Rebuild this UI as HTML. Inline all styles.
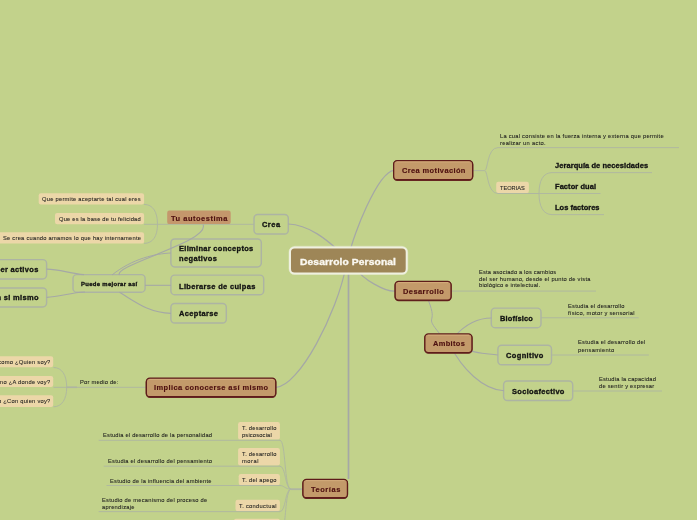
<!DOCTYPE html><html><head><meta charset="utf-8"><style>
html,body{margin:0;padding:0;}body{width:697px;height:520px;overflow:hidden;position:relative;background:#c2d28b;font-family:"Liberation Sans",sans-serif;}
.b{position:absolute;box-sizing:border-box;}
.center{background:#9e8657;border:2px solid #eff0e0;border-radius:5.5px;box-shadow:0 0 1.5px 0.5px rgba(240,245,225,0.55);}
.l1{background:#c39a6a;border:1.3px solid #5e1c1a;border-radius:3.5px;box-shadow:0 0.9px 0 0 #6a2a24, inset 0 1px 0 rgba(235,205,160,0.6);}
.tu{background:#c7956a;border-radius:2px;}
.gray{border:1.4px solid #aab3a3;border-radius:3px;background:#c2d28b;}
.peach{background:#ecd7a8;border-radius:2px;}
.t{position:absolute;white-space:nowrap;line-height:10px;transform-origin:0 50%;will-change:transform;}
svg{position:absolute;left:0;top:0;}
#wrap{position:absolute;left:0;top:0;width:697px;height:520px;overflow:hidden;filter:blur(0.3px);}
</style></head><body><div id="wrap">
<svg width="697" height="520" viewBox="0 0 697 520" fill="none">
<rect x="254.00" y="214.50" width="34.30" height="19.50" rx="3.8" fill="#c2d28b" stroke="#adb4a3" stroke-width="1.45"/>
<rect x="170.90" y="239.00" width="90.40" height="27.90" rx="3.8" fill="#c2d28b" stroke="#adb4a3" stroke-width="1.45"/>
<rect x="170.90" y="275.10" width="92.80" height="19.60" rx="3.8" fill="#c2d28b" stroke="#adb4a3" stroke-width="1.45"/>
<rect x="170.90" y="303.50" width="55.40" height="19.50" rx="3.8" fill="#c2d28b" stroke="#adb4a3" stroke-width="1.45"/>
<rect x="73.00" y="274.60" width="72.10" height="17.60" rx="3.8" fill="#c2d28b" stroke="#adb4a3" stroke-width="1.45"/>
<rect x="-10.00" y="259.60" width="56.60" height="19.30" rx="3.8" fill="#c2d28b" stroke="#adb4a3" stroke-width="1.45"/>
<rect x="-10.00" y="287.90" width="56.60" height="19.00" rx="3.8" fill="#c2d28b" stroke="#adb4a3" stroke-width="1.45"/>
<rect x="491.30" y="308.10" width="49.70" height="19.60" rx="3.8" fill="#c2d28b" stroke="#adb4a3" stroke-width="1.45"/>
<rect x="497.90" y="345.20" width="53.60" height="19.60" rx="3.8" fill="#c2d28b" stroke="#adb4a3" stroke-width="1.45"/>
<rect x="503.60" y="380.90" width="69.10" height="19.60" rx="3.8" fill="#c2d28b" stroke="#adb4a3" stroke-width="1.45"/>
<rect x="38.70" y="193.30" width="105.40" height="11.10" rx="2.2" fill="#ecd7a8"/>
<rect x="55.00" y="212.90" width="89.10" height="11.40" rx="2.2" fill="#ecd7a8"/>
<rect x="-5.00" y="232.30" width="149.10" height="11.30" rx="2.2" fill="#ecd7a8"/>
<rect x="-5.00" y="356.30" width="58.20" height="11.00" rx="2.2" fill="#ecd7a8"/>
<rect x="-5.00" y="376.00" width="58.20" height="10.90" rx="2.2" fill="#ecd7a8"/>
<rect x="-5.00" y="395.30" width="58.20" height="11.60" rx="2.2" fill="#ecd7a8"/>
<rect x="496.20" y="181.80" width="32.70" height="11.30" rx="2.2" fill="#ecd7a8"/>
<rect x="238.10" y="422.00" width="41.80" height="17.60" rx="2.2" fill="#ecd7a8"/>
<rect x="238.10" y="447.90" width="41.80" height="17.60" rx="2.2" fill="#ecd7a8"/>
<rect x="238.70" y="474.10" width="41.20" height="11.10" rx="2.2" fill="#ecd7a8"/>
<rect x="235.50" y="499.80" width="44.40" height="11.30" rx="2.2" fill="#ecd7a8"/>
<rect x="234.00" y="518.80" width="45.90" height="16.20" rx="2.2" fill="#ecd7a8"/>
<g fill="none">
<path d="M350.0,252.0 C352.5,237.9 377.2,172.1 394.0,170.3" stroke-width="1.25" stroke="#a5a8a6"/>
<path d="M338.0,250.0 C328,241 309.2,224.6 288.3,224.0" stroke-width="1.25" stroke="#a5a8a6"/>
<path d="M356.0,268.0 C361.7,279.3 386.1,292.0 395.0,291.2" stroke-width="1.25" stroke="#a5a8a6"/>
<path d="M346.0,266.0 C337.1,313.2 298.9,386.6 276.0,387.3" stroke-width="1.25" stroke="#a5a8a6"/>
<path d="M348.5,270 L348.5,479" stroke-width="1.7" stroke="#a5a8a6"/>
<path d="M473,170.6 L484.7,170.6 C488,170.6 487,147.6 498,147.6 L679,147.6" stroke-width="0.9" stroke="#aeb5a2"/>
<path d="M484.7,170.6 C488,170.6 487,193.5 498,193.5 L539,193.5" stroke-width="0.9" stroke="#aeb5a2"/>
<path d="M528,193.5 L600.5,193.5" stroke-width="0.9" stroke="#aeb5a2"/>
<path d="M552,172.6 C543,172.6 539,181 539,193.5 C539,206 543,214.6 552,214.6" stroke-width="0.9" stroke="#aeb5a2"/>
<path d="M552,172.6 L652,172.6" stroke-width="0.9" stroke="#aeb5a2"/>
<path d="M552,214.6 L604,214.6" stroke-width="0.9" stroke="#aeb5a2"/>
<path d="M451,291.1 L596,291.1" stroke-width="0.9" stroke="#aeb5a2"/>
<path d="M428.5,300.7 C438.5,325.8 423.3,313.8 439.5,333.5" stroke-width="1.0" stroke="#a5a8a6"/>
<path d="M455,336 C465,325 476,318 491.5,318" stroke-width="1.1" stroke="#a5a8a6"/>
<path d="M465.0,348.0 C473.7,354.7 495.2,353.7 498.0,355.0" stroke-width="1.1" stroke="#a5a8a6"/>
<path d="M450.0,345.0 C462.1,369.1 482.9,389.6 504.0,390.8" stroke-width="1.1" stroke="#a5a8a6"/>
<path d="M541,317.8 L638.7,317.8" stroke-width="0.9" stroke="#aeb5a2"/>
<path d="M551.5,355 L648.8,355" stroke-width="0.9" stroke="#aeb5a2"/>
<path d="M572.7,391 L662,391" stroke-width="0.9" stroke="#aeb5a2"/>
<path d="M254,224.3 L144,224.3" stroke-width="0.9" stroke="#aeb5a2"/>
<path d="M144,204.4 C153,204.4 157.5,212 157.5,224.3 C157.5,236 153,243.4 144,243.4" stroke-width="0.9" stroke="#aeb5a2"/>
<path d="M203.0,224.5 C211.1,241.3 112.5,265.3 119.5,275.0" stroke-width="1.1" stroke="#a5a8a6"/>
<path d="M112.0,275.0 C132.6,258.4 156.0,253.6 171.0,253.0" stroke-width="1.0" stroke="#a5a8a6"/>
<path d="M145,285.3 L171,285.3" stroke-width="1.1" stroke="#a5a8a6"/>
<path d="M119.5,292.3 C135,301.5 148,312.6 171.0,313.4" stroke-width="1.1" stroke="#a5a8a6"/>
<path d="M46.6,269.1 C60,269.3 70,273.5 84,274.6" stroke-width="1.1" stroke="#a5a8a6"/>
<path d="M46.6,297.4 C60,297 70,292.6 85,292" stroke-width="1.1" stroke="#a5a8a6"/>
<path d="M145.8,387.3 L53.5,387.3" stroke-width="0.9" stroke="#aeb5a2"/>
<path d="M66.6,387.3 L77,387.3" stroke-width="1.6" stroke="#aeb5a2"/>
<path d="M53.5,367.5 C62,367.5 66.7,375 66.7,387.3 C66.7,399 62,406.8 53.5,406.8" stroke-width="0.9" stroke="#aeb5a2"/>
<path d="M302.3,489.2 L291,489.2" stroke-width="1.8" stroke="#aeb5a2"/>
<path d="M291,489.2 C284,489 286,440.3 279.9,440.3" stroke-width="0.9" stroke="#aeb5a2"/>
<path d="M291,489.2 C285,489 286,466.2 279.9,466.2" stroke-width="0.9" stroke="#aeb5a2"/>
<path d="M291,489.2 C285,489 284,485.5 279.9,485.5" stroke-width="0.9" stroke="#aeb5a2"/>
<path d="M291,489.2 C285,489 286,511.6 279.9,511.6" stroke-width="0.9" stroke="#aeb5a2"/>
<path d="M291,489.2 C286,490 286,515 284,525" stroke-width="0.9" stroke="#aeb5a2"/>
<path d="M280,440.3 L98.7,440.3" stroke-width="0.9" stroke="#aeb5a2"/>
<path d="M280,466.2 L103.8,466.2" stroke-width="0.9" stroke="#aeb5a2"/>
<path d="M280,485.5 L106.5,485.5" stroke-width="0.9" stroke="#aeb5a2"/>
<path d="M280,511.6 L98.7,511.6" stroke-width="0.9" stroke="#aeb5a2"/>
</g>
<rect x="290.00" y="247.40" width="116.70" height="26.10" rx="5" fill="none" stroke="#f0f3e2" stroke-width="3.2" opacity="0.35"/><rect x="290.00" y="247.40" width="116.70" height="26.10" rx="4.5" fill="#9e8657" stroke="#eff0e0" stroke-width="2"/>
<rect x="393.65" y="161.25" width="79.00" height="19.00" rx="3.5" fill="none" stroke="#6a2a24" stroke-width="1.3"/><rect x="393.65" y="160.65" width="79.00" height="19.00" rx="3.5" fill="#c39a6a" stroke="#5e1c1a" stroke-width="1.3"/><path d="M396.50,161.90 H469.80" stroke="#e0bb8a" stroke-width="0.8" opacity="0.7"/>
<rect x="395.15" y="281.95" width="55.90" height="18.70" rx="3.5" fill="none" stroke="#6a2a24" stroke-width="1.3"/><rect x="395.15" y="281.35" width="55.90" height="18.70" rx="3.5" fill="#c39a6a" stroke="#5e1c1a" stroke-width="1.3"/><path d="M398.00,282.60 H448.20" stroke="#e0bb8a" stroke-width="0.8" opacity="0.7"/>
<rect x="424.85" y="334.55" width="47.10" height="18.60" rx="3.5" fill="none" stroke="#6a2a24" stroke-width="1.3"/><rect x="424.85" y="333.95" width="47.10" height="18.60" rx="3.5" fill="#c39a6a" stroke="#5e1c1a" stroke-width="1.3"/><path d="M427.70,335.20 H469.10" stroke="#e0bb8a" stroke-width="0.8" opacity="0.7"/>
<rect x="146.35" y="378.75" width="129.40" height="18.50" rx="3.5" fill="none" stroke="#6a2a24" stroke-width="1.3"/><rect x="146.35" y="378.15" width="129.40" height="18.50" rx="3.5" fill="#c39a6a" stroke="#5e1c1a" stroke-width="1.3"/><path d="M149.20,379.40 H272.90" stroke="#e0bb8a" stroke-width="0.8" opacity="0.7"/>
<rect x="302.95" y="480.05" width="44.50" height="18.30" rx="3.5" fill="none" stroke="#6a2a24" stroke-width="1.3"/><rect x="302.95" y="479.45" width="44.50" height="18.30" rx="3.5" fill="#c39a6a" stroke="#5e1c1a" stroke-width="1.3"/><path d="M305.80,480.70 H344.60" stroke="#e0bb8a" stroke-width="0.8" opacity="0.7"/>
<rect x="167.20" y="210.60" width="63.50" height="13.50" rx="2.2" fill="#c4976c"/>
</svg>
<div class="t" id="t0" style="left:300.10px;top:257.08px;font-size:9.59px;color:#fbf9f2;font-weight:bold;-webkit-text-stroke:0.35px #fbf9f2;transform:scaleX(1.0700);letter-spacing:0.106px;">Desarrolo Personal</div>
<div class="t" id="t1" style="left:401.70px;top:166.08px;font-size:6.98px;color:#4e1010;font-weight:bold;-webkit-text-stroke:0.15px #4e1010;transform:scaleX(1.0700);letter-spacing:0.360px;">Crea motivación</div>
<div class="t" id="t2" style="left:403.00px;top:286.58px;font-size:6.98px;color:#4e1010;font-weight:bold;-webkit-text-stroke:0.15px #4e1010;transform:scaleX(1.0700);letter-spacing:0.408px;">Desarrollo</div>
<div class="t" id="t3" style="left:432.50px;top:338.88px;font-size:6.98px;color:#4e1010;font-weight:bold;-webkit-text-stroke:0.15px #4e1010;transform:scaleX(1.0700);letter-spacing:0.327px;">Ambitos</div>
<div class="t" id="t4" style="left:154.20px;top:383.08px;font-size:6.98px;color:#4e1010;font-weight:bold;-webkit-text-stroke:0.15px #4e1010;transform:scaleX(1.0700);letter-spacing:0.374px;">Implica conocerse así mismo</div>
<div class="t" id="t5" style="left:310.70px;top:484.88px;font-size:6.98px;color:#4e1010;font-weight:bold;-webkit-text-stroke:0.15px #4e1010;transform:scaleX(1.0700);letter-spacing:0.521px;">Teorías</div>
<div class="t" id="t6" style="left:171.00px;top:213.78px;font-size:6.98px;color:#4e1010;font-weight:bold;-webkit-text-stroke:0.15px #4e1010;transform:scaleX(1.0700);letter-spacing:0.492px;">Tu autoestima</div>
<div class="t" id="t7" style="left:262.40px;top:220.48px;font-size:6.98px;color:#121212;font-weight:bold;-webkit-text-stroke:0.30px #121212;transform:scaleX(1.0700);letter-spacing:0.450px;">Crea</div>
<div class="t" id="t8" style="left:179.30px;top:244.48px;font-size:6.98px;color:#121212;font-weight:bold;-webkit-text-stroke:0.30px #121212;transform:scaleX(1.0700);letter-spacing:0.299px;">Eliminar conceptos</div>
<div class="t" id="t9" style="left:179.30px;top:254.08px;font-size:6.98px;color:#121212;font-weight:bold;-webkit-text-stroke:0.30px #121212;transform:scaleX(1.0700);letter-spacing:0.364px;">negativos</div>
<div class="t" id="t10" style="left:179.30px;top:281.68px;font-size:6.98px;color:#121212;font-weight:bold;-webkit-text-stroke:0.30px #121212;transform:scaleX(1.0700);letter-spacing:0.326px;">Liberarse de culpas</div>
<div class="t" id="t11" style="left:179.30px;top:308.58px;font-size:6.98px;color:#121212;font-weight:bold;-webkit-text-stroke:0.30px #121212;transform:scaleX(1.0700);letter-spacing:0.346px;">Aceptarse</div>
<div class="t" id="t12" style="left:81.00px;top:278.99px;font-size:5.52px;color:#121212;font-weight:bold;-webkit-text-stroke:0.30px #121212;transform:scaleX(1.0700);letter-spacing:0.314px;">Puede mejorar así</div>
<div class="t" id="t13" style="right:658.40px;top:265.18px;font-size:6.98px;color:#121212;transform-origin:100% 50%;font-weight:bold;-webkit-text-stroke:0.30px #121212;transform:scaleX(1.0700);letter-spacing:0.313px;">Ser activos</div>
<div class="t" id="t14" style="right:658.40px;top:293.28px;font-size:6.98px;color:#121212;transform-origin:100% 50%;font-weight:bold;-webkit-text-stroke:0.30px #121212;transform:scaleX(1.0700);letter-spacing:0.318px;">Creer en si mismo</div>
<div class="t" id="t15" style="left:500.00px;top:313.78px;font-size:6.98px;color:#121212;font-weight:bold;-webkit-text-stroke:0.30px #121212;transform:scaleX(1.0700);letter-spacing:0.167px;">Biofísico</div>
<div class="t" id="t16" style="left:506.00px;top:350.78px;font-size:6.98px;color:#121212;font-weight:bold;-webkit-text-stroke:0.30px #121212;transform:scaleX(1.0700);letter-spacing:0.355px;">Cognitivo</div>
<div class="t" id="t17" style="left:512.00px;top:386.58px;font-size:6.98px;color:#121212;font-weight:bold;-webkit-text-stroke:0.30px #121212;transform:scaleX(1.0700);letter-spacing:0.307px;">Socioafectivo</div>
<div class="t" id="t18" style="left:555.30px;top:160.68px;font-size:6.98px;color:#121212;font-weight:bold;-webkit-text-stroke:0.30px #121212;transform:scaleX(1.0700);letter-spacing:0.075px;">Jerarquía de necesidades</div>
<div class="t" id="t19" style="left:555.00px;top:181.78px;font-size:6.98px;color:#121212;font-weight:bold;-webkit-text-stroke:0.30px #121212;transform:scaleX(1.0700);letter-spacing:0.078px;">Factor dual</div>
<div class="t" id="t20" style="left:555.00px;top:202.68px;font-size:6.98px;color:#121212;font-weight:bold;-webkit-text-stroke:0.30px #121212;transform:scaleX(1.0700);letter-spacing:0.015px;">Los factores</div>
<div class="t" id="t21" style="left:499.80px;top:131.44px;font-size:5.38px;color:#1c1c1c;-webkit-text-stroke:0.07px #1c1c1c;transform:scaleX(1.0700);letter-spacing:0.231px;">La cual consiste en la fuerza interna y externa que permite</div>
<div class="t" id="t22" style="left:499.80px;top:137.94px;font-size:5.38px;color:#1c1c1c;-webkit-text-stroke:0.07px #1c1c1c;transform:scaleX(1.0700);letter-spacing:0.275px;">realizar un acto.</div>
<div class="t" id="t23" style="left:500.20px;top:183.14px;font-size:5.38px;color:#1c1c1c;-webkit-text-stroke:0.07px #1c1c1c;transform:scaleX(1.0513);letter-spacing:0.000px;">TEORIAS</div>
<div class="t" id="t24" style="left:478.70px;top:267.14px;font-size:5.38px;color:#1c1c1c;-webkit-text-stroke:0.07px #1c1c1c;transform:scaleX(1.0700);letter-spacing:0.152px;">Esta asociado a los cambios</div>
<div class="t" id="t25" style="left:478.70px;top:274.14px;font-size:5.38px;color:#1c1c1c;-webkit-text-stroke:0.07px #1c1c1c;transform:scaleX(1.0700);letter-spacing:0.232px;">del ser humano, desde el punto de vista</div>
<div class="t" id="t26" style="left:478.70px;top:280.34px;font-size:5.38px;color:#1c1c1c;-webkit-text-stroke:0.07px #1c1c1c;transform:scaleX(1.0700);letter-spacing:0.184px;">biológico e intelectual.</div>
<div class="t" id="t27" style="left:568.00px;top:300.54px;font-size:5.38px;color:#1c1c1c;-webkit-text-stroke:0.07px #1c1c1c;transform:scaleX(1.0700);letter-spacing:0.202px;">Estudia el desarrollo</div>
<div class="t" id="t28" style="left:568.00px;top:308.14px;font-size:5.38px;color:#1c1c1c;-webkit-text-stroke:0.07px #1c1c1c;transform:scaleX(1.0700);letter-spacing:0.234px;">físico, motor y sensorial</div>
<div class="t" id="t29" style="left:578.00px;top:337.44px;font-size:5.38px;color:#1c1c1c;-webkit-text-stroke:0.07px #1c1c1c;transform:scaleX(1.0700);letter-spacing:0.223px;">Estudia el desarrollo del</div>
<div class="t" id="t30" style="left:578.00px;top:344.74px;font-size:5.38px;color:#1c1c1c;-webkit-text-stroke:0.07px #1c1c1c;transform:scaleX(1.0700);letter-spacing:0.298px;">pensamiento</div>
<div class="t" id="t31" style="left:599.20px;top:373.74px;font-size:5.38px;color:#1c1c1c;-webkit-text-stroke:0.07px #1c1c1c;transform:scaleX(1.0700);letter-spacing:0.189px;">Estudia la capacidad</div>
<div class="t" id="t32" style="left:599.20px;top:380.64px;font-size:5.38px;color:#1c1c1c;-webkit-text-stroke:0.07px #1c1c1c;transform:scaleX(1.0700);letter-spacing:0.232px;">de sentir y expresar</div>
<div class="t" id="t33" style="left:80.30px;top:376.74px;font-size:5.38px;color:#1c1c1c;-webkit-text-stroke:0.07px #1c1c1c;transform:scaleX(1.0700);letter-spacing:0.196px;">Por medio de:</div>
<div class="t" id="t34" style="left:42.10px;top:194.24px;font-size:5.38px;color:#1c1c1c;-webkit-text-stroke:0.07px #1c1c1c;transform:scaleX(1.0700);letter-spacing:0.239px;">Que permite aceptarte tal cual eres</div>
<div class="t" id="t35" style="left:58.90px;top:213.64px;font-size:5.38px;color:#1c1c1c;-webkit-text-stroke:0.07px #1c1c1c;transform:scaleX(1.0700);letter-spacing:0.191px;">Que es la base de tu felicidad</div>
<div class="t" id="t36" style="left:2.60px;top:233.24px;font-size:5.38px;color:#1c1c1c;-webkit-text-stroke:0.07px #1c1c1c;transform:scaleX(1.0700);letter-spacing:0.229px;">Se crea cuando amamos lo que hay internamente</div>
<div class="t" id="t37" style="right:646.90px;top:357.24px;font-size:5.38px;color:#1c1c1c;transform-origin:100% 50%;-webkit-text-stroke:0.07px #1c1c1c;transform:scaleX(1.0700);letter-spacing:0.236px;">Preguntarse como ¿Quien soy?</div>
<div class="t" id="t38" style="right:646.90px;top:376.74px;font-size:5.38px;color:#1c1c1c;transform-origin:100% 50%;-webkit-text-stroke:0.07px #1c1c1c;transform:scaleX(1.0700);letter-spacing:0.236px;">Preguntarse como ¿A donde voy?</div>
<div class="t" id="t39" style="right:646.90px;top:396.24px;font-size:5.38px;color:#1c1c1c;transform-origin:100% 50%;-webkit-text-stroke:0.07px #1c1c1c;transform:scaleX(1.0700);letter-spacing:0.234px;">Preguntarse como ¿Con quien voy?</div>
<div class="t" id="t40" style="left:242.10px;top:423.14px;font-size:5.38px;color:#1c1c1c;-webkit-text-stroke:0.07px #1c1c1c;transform:scaleX(1.0700);letter-spacing:0.241px;">T. desarrollo</div>
<div class="t" id="t41" style="left:242.10px;top:430.24px;font-size:5.38px;color:#1c1c1c;-webkit-text-stroke:0.07px #1c1c1c;transform:scaleX(1.0700);letter-spacing:0.149px;">psicosocial</div>
<div class="t" id="t42" style="left:242.10px;top:449.14px;font-size:5.38px;color:#1c1c1c;-webkit-text-stroke:0.07px #1c1c1c;transform:scaleX(1.0700);letter-spacing:0.241px;">T. desarrollo</div>
<div class="t" id="t43" style="left:242.10px;top:456.14px;font-size:5.38px;color:#1c1c1c;-webkit-text-stroke:0.07px #1c1c1c;transform:scaleX(1.0700);letter-spacing:0.522px;">moral</div>
<div class="t" id="t44" style="left:242.10px;top:475.14px;font-size:5.38px;color:#1c1c1c;-webkit-text-stroke:0.07px #1c1c1c;transform:scaleX(1.0700);letter-spacing:0.262px;">T. del apego</div>
<div class="t" id="t45" style="left:239.00px;top:500.84px;font-size:5.38px;color:#1c1c1c;-webkit-text-stroke:0.07px #1c1c1c;transform:scaleX(1.0700);letter-spacing:0.274px;">T. conductual</div>
<div class="t" id="t46" style="left:102.60px;top:429.74px;font-size:5.38px;color:#1c1c1c;-webkit-text-stroke:0.07px #1c1c1c;transform:scaleX(1.0700);letter-spacing:0.199px;">Estudia el desarrollo de la personalidad</div>
<div class="t" id="t47" style="left:107.70px;top:455.74px;font-size:5.38px;color:#1c1c1c;-webkit-text-stroke:0.07px #1c1c1c;transform:scaleX(1.0700);letter-spacing:0.208px;">Estudia el desarrollo del pensamiento</div>
<div class="t" id="t48" style="left:110.20px;top:475.74px;font-size:5.38px;color:#1c1c1c;-webkit-text-stroke:0.07px #1c1c1c;transform:scaleX(1.0700);letter-spacing:0.201px;">Estudio de la influencia del ambiente</div>
<div class="t" id="t49" style="left:102.20px;top:494.74px;font-size:5.38px;color:#1c1c1c;-webkit-text-stroke:0.07px #1c1c1c;transform:scaleX(1.0700);letter-spacing:0.212px;">Estudio de mecanismo del proceso de</div>
<div class="t" id="t50" style="left:102.20px;top:501.64px;font-size:5.38px;color:#1c1c1c;-webkit-text-stroke:0.07px #1c1c1c;transform:scaleX(1.0700);letter-spacing:0.260px;">aprendizaje</div>
</div></body></html>
